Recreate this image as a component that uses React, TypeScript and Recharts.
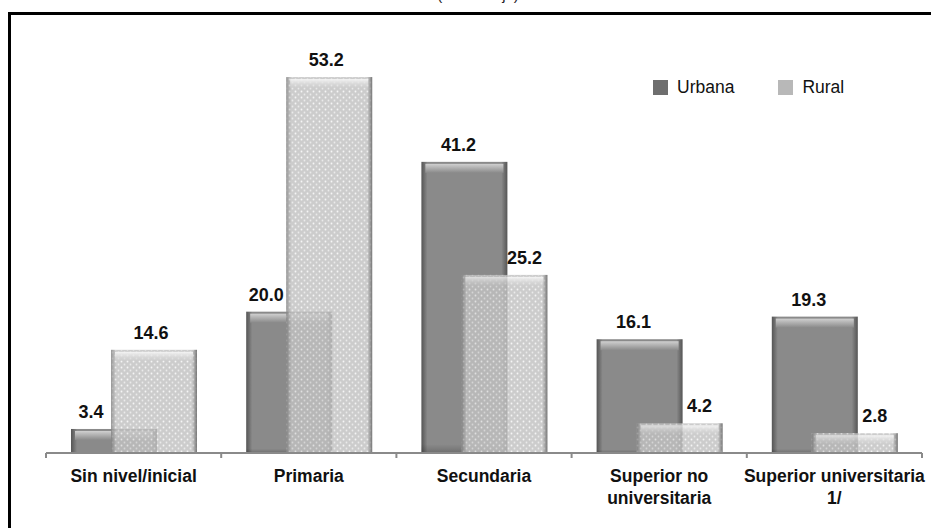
import { BarChart, Bar, XAxis, YAxis, LabelList, Text } from "recharts";

const categories = [
  "Sin nivel/inicial",
  "Primaria",
  "Secundaria",
  "Superior no\nuniversitaria",
  "Superior universitaria\n1/",
];
const urbana = [3.4, 20.0, 41.2, 16.1, 19.3];
const rural = [14.6, 53.2, 25.2, 4.2, 2.8];
const seriesNames = { urbana: "Urbana", rural: "Rural" };

const data = categories.map((name, i) => ({ name, urbana: urbana[i], rural: rural[i] }));

const font = "'Liberation Sans', Arial, sans-serif";
const axisGray = "#8a8a8a";

function UrbanaShape(props: any) {
  const { x, y, width, height } = props;
  if (!height || height <= 0) return null;
  const top = Math.min(9, height - 2);
  return (
    <g>
      <rect x={x} y={y} width={width} height={height} fill="url(#urbH)" />
      <rect x={x} y={y} width={width} height={height} fill="url(#urbV)" />
      <rect x={x + 4} y={y + 2} width={width - 8} height={top} fill="url(#urbTop)" />
    </g>
  );
}

function RuralShape(props: any) {
  const { x, y, width, height } = props;
  if (!height || height <= 0) return null;
  const top = Math.min(9, height - 2);
  return (
    <g opacity={0.82}>
      <rect x={x} y={y} width={width} height={height} fill="#c2c2c2" />
      <rect x={x} y={y} width={width} height={height} fill="url(#dots)" />
      <rect x={x} y={y} width={width} height={height} fill="url(#rurH)" />
      <rect x={x + 4} y={y + 2} width={width - 8} height={top} fill="url(#rurTop)" />
    </g>
  );
}

function urbanaLabel(props: any) {
  const { x, y, width, index, value } = props;
  const cx = urbana[index] < rural[index] ? x + 20 : x + width / 2 - 6;
  return (
    <text x={cx} y={y - 11} textAnchor="middle" fontFamily={font} fontWeight="bold" fontSize={18} fill="#111">
      {Number(value).toFixed(1)}
    </text>
  );
}

function ruralLabel(props: any) {
  const { x, y, width, index, value } = props;
  const cx = rural[index] < urbana[index] ? x + width / 2 + 20 : x + width / 2 - 3;
  return (
    <text x={cx} y={y - 11} textAnchor="middle" fontFamily={font} fontWeight="bold" fontSize={18} fill="#111">
      {Number(value).toFixed(1)}
    </text>
  );
}

function CategoryTick(props: any) {
  const { x, y, payload, index, visibleTicksCount } = props;
  const half = payload && payload.offset ? payload.offset : 87.6;
  const lines = String(payload.value).split("\n");
  const last = index === (visibleTicksCount ?? categories.length) - 1;
  return (
    <g>
      <line x1={x - half} x2={x - half} y1={y - 8} y2={y - 3} stroke={axisGray} strokeWidth={2} />
      {last && <line x1={x + half} x2={x + half} y1={y - 8} y2={y - 3} stroke={axisGray} strokeWidth={2} />}
      {lines.map((l, i) => (
        <Text key={i} x={x} y={y + 9 + i * 22} textAnchor="middle" verticalAnchor="start"
          fontFamily={font} fontWeight="bold" fontSize={17.5} fill="#111">
          {l}
        </Text>
      ))}
    </g>
  );
}

function LegendBox() {
  const items = [
    { name: seriesNames.urbana, color: "#6e6e6e" },
    { name: seriesNames.rural, color: "#b8b8b8" },
  ];
  return (
    <div style={{ position: "absolute", left: 653, top: 77, display: "flex", gap: 44, fontFamily: font, fontSize: 17.5, color: "#111" }}>
      {items.map((it) => (
        <div key={it.name} style={{ display: "flex", alignItems: "center", gap: 9 }}>
          <span style={{ width: 15, height: 15, background: it.color, display: "inline-block" }} />
          {it.name}
        </div>
      ))}
    </div>
  );
}

export default function App() {
  return (
    <div style={{ position: "absolute", left: 0, top: 0, width: 931, height: 528, overflow: "hidden", background: "#fff" }}>
      <svg style={{ position: "absolute", left: 0, top: 0 }} width={931} height={10}>
        <text x={478} y={0} textAnchor="middle" fontFamily={font} fontSize={15} fill="#222">(Porcentaje)</text>
      </svg>
      <div style={{ position: "absolute", left: 8, top: 12, width: 1000, height: 1000, borderTop: "3px solid #000", borderLeft: "3px solid #000" }} />
      <div style={{ position: "absolute", left: 0, top: 0 }}>
        <BarChart width={931} height={528} data={data} barSize={86} barGap={-46}
          margin={{ top: 29, right: 9, bottom: 15, left: 46 }}>
          <defs>
            <linearGradient id="urbH" x1="0" x2="1" y1="0" y2="0">
              <stop offset="0%" stopColor="#555" />
              <stop offset="7%" stopColor="#8a8a8a" />
              <stop offset="93%" stopColor="#8a8a8a" />
              <stop offset="100%" stopColor="#555" />
            </linearGradient>
            <linearGradient id="urbV" x1="0" x2="0" y1="0" y2="1">
              <stop offset="0%" stopColor="#000" stopOpacity={0} />
              <stop offset="97%" stopColor="#000" stopOpacity={0} />
              <stop offset="100%" stopColor="#000" stopOpacity={0.2} />
            </linearGradient>
            <linearGradient id="urbTop" x1="0" x2="0" y1="0" y2="1">
              <stop offset="0%" stopColor="#d0d0d0" />
              <stop offset="100%" stopColor="#8a8a8a" />
            </linearGradient>
            <linearGradient id="rurH" x1="0" x2="1" y1="0" y2="0">
              <stop offset="0%" stopColor="#555" stopOpacity={0.6} />
              <stop offset="6%" stopColor="#555" stopOpacity={0} />
              <stop offset="94%" stopColor="#555" stopOpacity={0} />
              <stop offset="100%" stopColor="#333" stopOpacity={0.75} />
            </linearGradient>
            <linearGradient id="rurTop" x1="0" x2="0" y1="0" y2="1">
              <stop offset="0%" stopColor="#f2f2f2" />
              <stop offset="100%" stopColor="#c2c2c2" stopOpacity={0.4} />
            </linearGradient>
            <pattern id="dots" width={6} height={6} patternUnits="userSpaceOnUse">
              <circle cx={1.5} cy={1.5} r={0.9} fill="#f4f4f4" />
              <circle cx={4.5} cy={4.5} r={0.9} fill="#e6e6e6" />
            </pattern>
          </defs>
          <XAxis dataKey="name" interval={0} height={60} tick={<CategoryTick />} tickLine={false}
            axisLine={{ stroke: axisGray, strokeWidth: 2 }} />
          <YAxis hide domain={[0, 60]} />
          <Bar dataKey="urbana" name={seriesNames.urbana} shape={<UrbanaShape />} isAnimationActive={false}>
            <LabelList dataKey="urbana" content={urbanaLabel} />
          </Bar>
          <Bar dataKey="rural" name={seriesNames.rural} shape={<RuralShape />} isAnimationActive={false}>
            <LabelList dataKey="rural" content={ruralLabel} />
          </Bar>
        </BarChart>
      </div>
      <LegendBox />
    </div>
  );
}
